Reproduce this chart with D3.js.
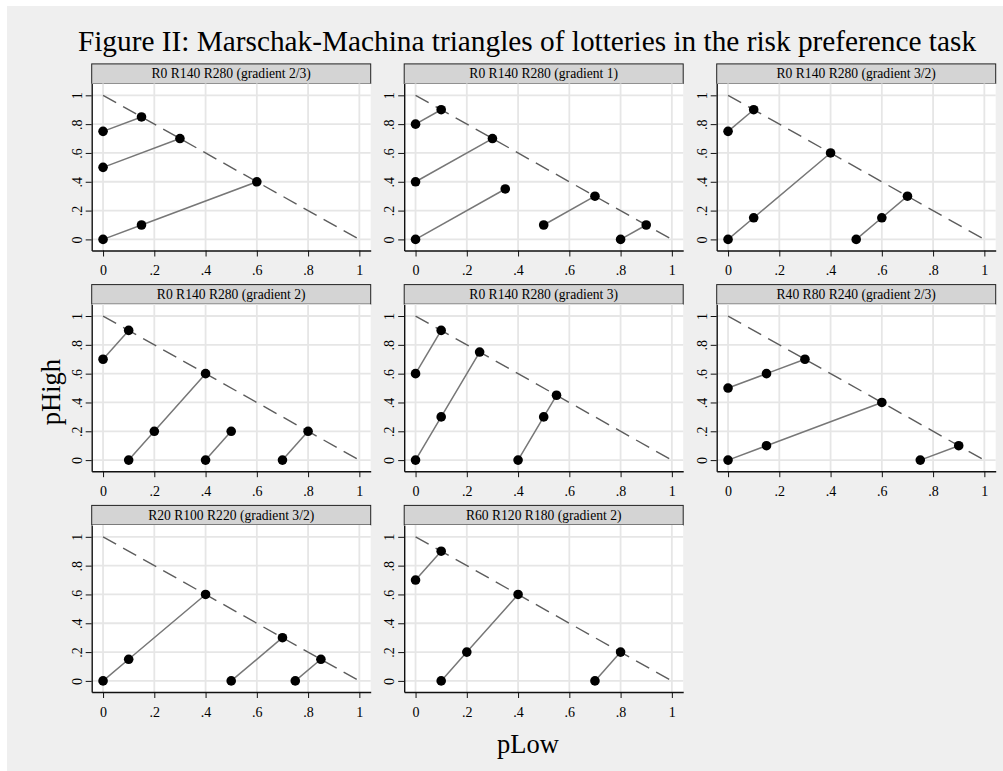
<!DOCTYPE html>
<html>
<head>
<meta charset="utf-8">
<script src="https://cdn.jsdelivr.net/npm/d3@7"></script>
<style>
  body { margin: 0; background: #fff; }
  svg { display: block; }
  text { font-family: "Liberation Serif", "Times New Roman", serif; fill: #000; }
</style>
</head>
<body>
<svg id="chart" width="1003" height="771"></svg>
<script>
// Panel headings: outcome levels and the slope of the iso-expected-value line
const panelTitles = [
  "R0 R140 R280 (gradient 2/3)",
  "R0 R140 R280 (gradient 1)",
  "R0 R140 R280 (gradient 3/2)",
  "R0 R140 R280 (gradient 2)",
  "R0 R140 R280 (gradient 3)",
  "R40 R80 R240 (gradient 2/3)",
  "R20 R100 R220 (gradient 3/2)",
  "R60 R120 R180 (gradient 2)"
];

// Lottery chains per panel, each point is [pLow, pHigh]
const chainsG23 = [
  [[0, 0.75], [0.15, 0.85]],
  [[0, 0.5], [0.3, 0.7]],
  [[0, 0], [0.15, 0.1], [0.6, 0.4]]
];
const chainsG1 = [
  [[0, 0.8], [0.1, 0.9]],
  [[0, 0.4], [0.3, 0.7]],
  [[0, 0], [0.35, 0.35]],
  [[0.5, 0.1], [0.7, 0.3]],
  [[0.8, 0], [0.9, 0.1]]
];
const chainsG32 = [
  [[0, 0.75], [0.1, 0.9]],
  [[0, 0], [0.1, 0.15], [0.4, 0.6]],
  [[0.5, 0], [0.6, 0.15], [0.7, 0.3]]
];
const chainsG2 = [
  [[0, 0.7], [0.1, 0.9]],
  [[0.1, 0], [0.2, 0.2], [0.4, 0.6]],
  [[0.4, 0], [0.5, 0.2]],
  [[0.7, 0], [0.8, 0.2]]
];
const chainsG3 = [
  [[0, 0.6], [0.1, 0.9]],
  [[0, 0], [0.1, 0.3], [0.25, 0.75]],
  [[0.4, 0], [0.5, 0.3], [0.55, 0.45]]
];
const chainsR40 = [
  [[0, 0.5], [0.15, 0.6], [0.3, 0.7]],
  [[0, 0], [0.15, 0.1], [0.6, 0.4]],
  [[0.75, 0], [0.9, 0.1]]
];
const chainsR20 = [
  [[0, 0], [0.1, 0.15], [0.4, 0.6]],
  [[0.5, 0], [0.7, 0.3]],
  [[0.75, 0], [0.85, 0.15]]
];
const chainsR60 = [
  [[0, 0.7], [0.1, 0.9]],
  [[0.1, 0], [0.2, 0.2], [0.4, 0.6]],
  [[0.7, 0], [0.8, 0.2]]
];
const panelChains = [chainsG23, chainsG1, chainsG32, chainsG2, chainsG3, chainsR40, chainsR20, chainsR60];

// Triangle hypotenuse pLow + pHigh = 1
const hypotenuse = [[0, 1], [1, 0]];

const tickValues = [0, 0.2, 0.4, 0.6, 0.8, 1];
const tickLabels = ["0", ".2", ".4", ".6", ".8", "1"];

const svg = d3.select("#chart");

// Outer background
svg.append("rect").attr("x", 7).attr("y", 6).attr("width", 996).attr("height", 765).attr("fill", "#efefef");

// Title and shared axis titles
svg.append("text")
  .attr("x", 527).attr("y", 50.5)
  .attr("text-anchor", "middle")
  .style("font-size", "29.3px")
  .text("Figure II: Marschak-Machina triangles of lotteries in the risk preference task");

svg.append("text")
  .attr("transform", "translate(59.5,392) rotate(-90)")
  .attr("text-anchor", "middle")
  .style("font-size", "26.5px")
  .text("pHigh");

svg.append("text")
  .attr("x", 528).attr("y", 752.5)
  .attr("text-anchor", "middle")
  .style("font-size", "26.5px")
  .text("pLow");

// Panel grid layout
const colLeft = [91.7, 404.2, 716.7];
const plotTop = [83.5, 304.2, 525];
const plotW = 279;
const plotH = 167;
const headerH = 19.6;

const line = d3.line();

panelTitles.forEach((title, i) => {
  const col = i % 3, row = Math.floor(i / 3);
  const left = colLeft[col], top = plotTop[row];

  const x = d3.scaleLinear().domain([-0.0443, 1.0443]).range([left, left + plotW]);
  const y = d3.scaleLinear().domain([-0.077, 1.082]).range([top + plotH, top]);

  const g = svg.append("g");

  // header strip
  g.append("rect")
    .attr("x", left).attr("y", top - headerH)
    .attr("width", plotW).attr("height", headerH)
    .attr("fill", "#d4d4d4").attr("stroke", "#222").attr("stroke-width", 1);
  g.append("text")
    .attr("x", left + plotW / 2).attr("y", top - headerH / 2 + 4.5)
    .attr("text-anchor", "middle")
    .style("font-size", "13.6px")
    .text(title);

  // plot region
  g.append("rect")
    .attr("x", left).attr("y", top)
    .attr("width", plotW).attr("height", plotH)
    .attr("fill", "#fff");

  // grid
  g.append("g").selectAll("line").data(tickValues).join("line")
    .attr("x1", d => x(d)).attr("x2", d => x(d))
    .attr("y1", top).attr("y2", top + plotH)
    .attr("stroke", "#e6e6e6").attr("stroke-width", 1.8);
  g.append("g").selectAll("line").data(tickValues).join("line")
    .attr("x1", left).attr("x2", left + plotW)
    .attr("y1", d => y(d)).attr("y2", d => y(d))
    .attr("stroke", "#e6e6e6").attr("stroke-width", 1.8);

  // hypotenuse
  g.append("path")
    .attr("d", line(hypotenuse.map(p => [x(p[0]), y(p[1])])))
    .attr("fill", "none")
    .attr("stroke", "#5c5c5c").attr("stroke-width", 1.4)
    .attr("stroke-dasharray", "15,8");

  // lottery chains
  const chains = panelChains[i];
  g.append("g").selectAll("path").data(chains).join("path")
    .attr("d", c => line(c.map(p => [x(p[0]), y(p[1])])))
    .attr("fill", "none")
    .attr("stroke", "#777").attr("stroke-width", 1.5);

  g.append("g").selectAll("circle").data(chains.flat()).join("circle")
    .attr("cx", p => x(p[0])).attr("cy", p => y(p[1]))
    .attr("r", 4.8).attr("fill", "#000");

  // axes
  const xAxis = g.append("g")
    .attr("transform", `translate(0,${top + plotH})`)
    .call(d3.axisBottom(x).tickValues(tickValues).tickFormat((d, k) => tickLabels[k]).tickSize(6).tickSizeOuter(0));
  xAxis.select(".domain").attr("stroke", "#111").attr("stroke-width", 1.4);
  xAxis.selectAll(".tick line").attr("stroke", "#111");
  xAxis.selectAll(".tick text")
    .attr("y", 24.5).attr("dy", null)
    .style("font-size", "14px");

  const yAxis = g.append("g")
    .attr("transform", `translate(${left},0)`)
    .call(d3.axisLeft(y).tickValues(tickValues).tickFormat((d, k) => tickLabels[k]).tickSize(6).tickSizeOuter(0));
  yAxis.select(".domain").attr("stroke", "#111").attr("stroke-width", 1.4);
  yAxis.selectAll(".tick line").attr("stroke", "#111");
  yAxis.selectAll(".tick text")
    .attr("x", null).attr("dy", null)
    .attr("transform", "translate(-10,0) rotate(-90)")
    .attr("text-anchor", "middle")
    .style("font-size", "14px");
});
</script>
</body>
</html>
